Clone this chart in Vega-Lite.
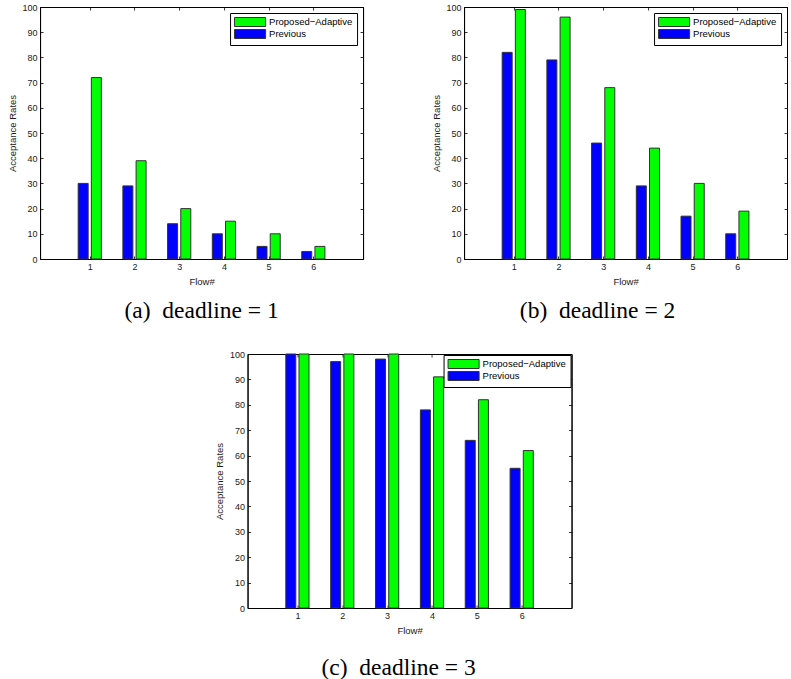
{
  "$schema": "https://vega.github.io/schema/vega-lite/v6.json",
  "background": "white",
  "padding": {"left": 6, "top": 2, "right": 0, "bottom": 0},
  "datasets": {
    "bars": [
      {"panel": "a", "flow": 1, "series": "Previous", "rate": 30},
      {"panel": "a", "flow": 2, "series": "Previous", "rate": 29},
      {"panel": "a", "flow": 3, "series": "Previous", "rate": 14},
      {"panel": "a", "flow": 4, "series": "Previous", "rate": 10},
      {"panel": "a", "flow": 5, "series": "Previous", "rate": 5},
      {"panel": "a", "flow": 6, "series": "Previous", "rate": 3},
      {"panel": "a", "flow": 1, "series": "Proposed−Adaptive", "rate": 72},
      {"panel": "a", "flow": 2, "series": "Proposed−Adaptive", "rate": 39},
      {"panel": "a", "flow": 3, "series": "Proposed−Adaptive", "rate": 20},
      {"panel": "a", "flow": 4, "series": "Proposed−Adaptive", "rate": 15},
      {"panel": "a", "flow": 5, "series": "Proposed−Adaptive", "rate": 10},
      {"panel": "a", "flow": 6, "series": "Proposed−Adaptive", "rate": 5},
      {"panel": "b", "flow": 1, "series": "Previous", "rate": 82},
      {"panel": "b", "flow": 2, "series": "Previous", "rate": 79},
      {"panel": "b", "flow": 3, "series": "Previous", "rate": 46},
      {"panel": "b", "flow": 4, "series": "Previous", "rate": 29},
      {"panel": "b", "flow": 5, "series": "Previous", "rate": 17},
      {"panel": "b", "flow": 6, "series": "Previous", "rate": 10},
      {"panel": "b", "flow": 1, "series": "Proposed−Adaptive", "rate": 99},
      {"panel": "b", "flow": 2, "series": "Proposed−Adaptive", "rate": 96},
      {"panel": "b", "flow": 3, "series": "Proposed−Adaptive", "rate": 68},
      {"panel": "b", "flow": 4, "series": "Proposed−Adaptive", "rate": 44},
      {"panel": "b", "flow": 5, "series": "Proposed−Adaptive", "rate": 30},
      {"panel": "b", "flow": 6, "series": "Proposed−Adaptive", "rate": 19},
      {"panel": "c", "flow": 1, "series": "Previous", "rate": 100},
      {"panel": "c", "flow": 2, "series": "Previous", "rate": 97},
      {"panel": "c", "flow": 3, "series": "Previous", "rate": 98},
      {"panel": "c", "flow": 4, "series": "Previous", "rate": 78},
      {"panel": "c", "flow": 5, "series": "Previous", "rate": 66},
      {"panel": "c", "flow": 6, "series": "Previous", "rate": 55},
      {"panel": "c", "flow": 1, "series": "Proposed−Adaptive", "rate": 100},
      {"panel": "c", "flow": 2, "series": "Proposed−Adaptive", "rate": 100},
      {"panel": "c", "flow": 3, "series": "Proposed−Adaptive", "rate": 100},
      {"panel": "c", "flow": 4, "series": "Proposed−Adaptive", "rate": 91},
      {"panel": "c", "flow": 5, "series": "Proposed−Adaptive", "rate": 82},
      {"panel": "c", "flow": 6, "series": "Proposed−Adaptive", "rate": 62}
    ]
  },
  "config": {
    "view": {"stroke": "black", "strokeWidth": 1},
    "axis": {
      "grid": false,
      "domainColor": "black",
      "domainWidth": 1,
      "tickColor": "black",
      "tickSize": -3,
      "tickWidth": 0.8,
      "labelFont": "Liberation Sans",
      "labelFontSize": 9,
      "labelColor": "#1a1a1a",
      "titleFont": "Liberation Sans",
      "titleFontSize": 9.5,
      "titleFontWeight": "normal",
      "titleColor": "#1a1a1a",
      "labelPadding": 6,
      "titlePadding": 5
    },
    "legend": {
      "orient": "top-right",
      "offset": 6,
      "fillColor": "white",
      "strokeColor": "black",
      "padding": 4,
      "symbolType": "M-1,-1L5.9,-1L5.9,1L-1,1Z",
      "symbolSize": 81,
      "symbolStrokeColor": "#333333",
      "symbolStrokeWidth": 1,
      "symbolOpacity": 1,
      "labelFont": "Liberation Sans",
      "labelFontSize": 9.5,
      "labelColor": "black",
      "labelOffset": 25,
      "rowPadding": -3
    },
    "title": {
      "font": "Liberation Serif",
      "fontSize": 23.5,
      "fontWeight": "normal",
      "color": "black",
      "orient": "bottom",
      "frame": "group",
      "anchor": "middle",
      "offset": 13
    }
  },
  "center": true,
  "spacing": 26,
  "resolve": {"scale": {"color": "independent"}, "legend": {"color": "independent"}},
  "vconcat": [
    {
      "spacing": 66,
      "resolve": {"scale": {"color": "independent"}, "legend": {"color": "independent"}},
      "hconcat": [
        {
          "width": 323, "height": 252,
          "title": {"text": "(a)\u00a0 deadline = 1", "dx": 0},
          "data": {"name": "bars"},
          "transform": [{"filter": "datum.panel == 'a'"}],
          "resolve": {"axis": {"x": "independent", "y": "independent"}},
          "layer": [
            {
              "transform": [{"filter": "datum.series == 'Previous'"}],
              "mark": {"type": "bar", "width": 10, "xOffset": -6.6, "stroke": "#333333", "strokeWidth": 1},
              "encoding": {
                "x": {"field": "flow", "type": "quantitative", "scale": {"domain": [0, 7], "nice": false}, "axis": {"orient": "bottom", "values": [1, 2, 3, 4, 5, 6], "title": "Flow#"}},
                "y": {"field": "rate", "type": "quantitative", "scale": {"domain": [0, 100], "nice": false}, "axis": {"orient": "left", "values": [0, 10, 20, 30, 40, 50, 60, 70, 80, 90, 100], "title": "Acceptance Rates"}},
                "color": {"field": "series", "type": "nominal", "scale": {"domain": ["Proposed−Adaptive", "Previous"], "range": ["#00ff00", "#0000ff"]}, "legend": {"title": null}}
              }
            },
            {
              "transform": [{"filter": "datum.series != 'Previous'"}],
              "mark": {"type": "bar", "width": 10, "xOffset": 6.6, "stroke": "#333333", "strokeWidth": 1},
              "encoding": {
                "x": {"field": "flow", "type": "quantitative", "scale": {"domain": [0, 7], "nice": false}, "axis": {"orient": "top", "values": [1, 2, 3, 4, 5, 6], "labels": false, "title": null}},
                "y": {"field": "rate", "type": "quantitative", "scale": {"domain": [0, 100], "nice": false}, "axis": {"orient": "right", "values": [0, 10, 20, 30, 40, 50, 60, 70, 80, 90, 100], "labels": false, "title": null}},
                "color": {"field": "series", "type": "nominal", "scale": {"domain": ["Proposed−Adaptive", "Previous"], "range": ["#00ff00", "#0000ff"]}, "legend": {"title": null}}
              }
            }
          ]
        },
        {
          "width": 323, "height": 252,
          "title": {"text": "(b)\u00a0 deadline = 2", "dx": -28},
          "data": {"name": "bars"},
          "transform": [{"filter": "datum.panel == 'b'"}],
          "resolve": {"axis": {"x": "independent", "y": "independent"}},
          "layer": [
            {
              "transform": [{"filter": "datum.series == 'Previous'"}],
              "mark": {"type": "bar", "width": 10, "xOffset": -6.6, "stroke": "#333333", "strokeWidth": 1},
              "encoding": {
                "x": {"field": "flow", "type": "quantitative", "scale": {"domain": [0, 7], "nice": false}, "axis": {"orient": "bottom", "values": [1, 2, 3, 4, 5, 6], "title": "Flow#"}},
                "y": {"field": "rate", "type": "quantitative", "scale": {"domain": [0, 100], "nice": false}, "axis": {"orient": "left", "values": [0, 10, 20, 30, 40, 50, 60, 70, 80, 90, 100], "title": "Acceptance Rates"}},
                "color": {"field": "series", "type": "nominal", "scale": {"domain": ["Proposed−Adaptive", "Previous"], "range": ["#00ff00", "#0000ff"]}, "legend": {"title": null}}
              }
            },
            {
              "transform": [{"filter": "datum.series != 'Previous'"}],
              "mark": {"type": "bar", "width": 10, "xOffset": 6.6, "stroke": "#333333", "strokeWidth": 1},
              "encoding": {
                "x": {"field": "flow", "type": "quantitative", "scale": {"domain": [0, 7], "nice": false}, "axis": {"orient": "top", "values": [1, 2, 3, 4, 5, 6], "labels": false, "title": null}},
                "y": {"field": "rate", "type": "quantitative", "scale": {"domain": [0, 100], "nice": false}, "axis": {"orient": "right", "values": [0, 10, 20, 30, 40, 50, 60, 70, 80, 90, 100], "labels": false, "title": null}},
                "color": {"field": "series", "type": "nominal", "scale": {"domain": ["Proposed−Adaptive", "Previous"], "range": ["#00ff00", "#0000ff"]}, "legend": {"title": null}}
              }
            }
          ]
        }
      ]
    },
    {
      "width": 324, "height": 254,
      "title": {"text": "(c)\u00a0 deadline = 3", "dx": -11, "offset": 21},
      "data": {"name": "bars"},
      "transform": [{"filter": "datum.panel == 'c'"}],
      "resolve": {"axis": {"x": "independent", "y": "independent"}},
      "layer": [
        {
          "transform": [{"filter": "datum.series == 'Previous'"}],
          "mark": {"type": "bar", "width": 10, "xOffset": -6.6, "stroke": "#333333", "strokeWidth": 1},
          "encoding": {
            "x": {"field": "flow", "type": "quantitative", "scale": {"domain": [0, 7], "nice": false}, "axis": {"orient": "bottom", "values": [1, 2, 3, 4, 5, 6], "title": "Flow#"}},
            "y": {"field": "rate", "type": "quantitative", "scale": {"domain": [0, 100], "nice": false}, "axis": {"orient": "left", "values": [0, 10, 20, 30, 40, 50, 60, 70, 80, 90, 100], "title": "Acceptance Rates"}},
            "color": {"field": "series", "type": "nominal", "scale": {"domain": ["Proposed−Adaptive", "Previous"], "range": ["#00ff00", "#0000ff"]}, "legend": {"title": null, "offset": 1}}
          }
        },
        {
          "transform": [{"filter": "datum.series != 'Previous'"}],
          "mark": {"type": "bar", "width": 10, "xOffset": 6.6, "stroke": "#333333", "strokeWidth": 1},
          "encoding": {
            "x": {"field": "flow", "type": "quantitative", "scale": {"domain": [0, 7], "nice": false}, "axis": {"orient": "top", "values": [1, 2, 3, 4, 5, 6], "labels": false, "title": null}},
            "y": {"field": "rate", "type": "quantitative", "scale": {"domain": [0, 100], "nice": false}, "axis": {"orient": "right", "values": [0, 10, 20, 30, 40, 50, 60, 70, 80, 90, 100], "labels": false, "title": "\u00a0", "titleFontSize": 1, "titlePadding": 7}},
            "color": {"field": "series", "type": "nominal", "scale": {"domain": ["Proposed−Adaptive", "Previous"], "range": ["#00ff00", "#0000ff"]}, "legend": {"title": null, "offset": 1}}
          }
        }
      ]
    }
  ]
}
